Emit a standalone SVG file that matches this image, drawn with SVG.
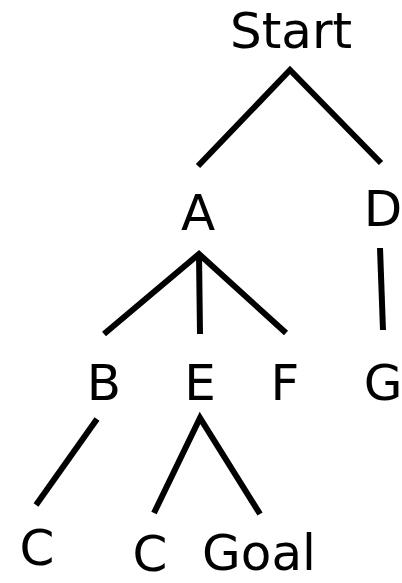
<svg xmlns="http://www.w3.org/2000/svg" width="402" height="583" viewBox="0 0 402 583">
<style>
text{font-family:"DejaVu Sans","Noto Sans",sans-serif;font-size:50px;fill:#000;text-anchor:middle}
.e{stroke:#000;stroke-width:6;fill:none;stroke-linecap:butt;stroke-linejoin:miter}
</style>
<rect width="402" height="583" fill="#fff"/>
<g id="connectors">
<path class="e" d="M198,166 L290,70 L381,163"/>
<path class="e" d="M104,334 L199,254 L286,333"/>
<path class="e" d="M199,254 L200,334"/>
<path class="e" d="M380,248 L383,330"/>
<path class="e" d="M97,419 L36,505"/>
<path class="e" d="M154,513 L200,418 L260,514"/>
</g>
<g id="node-start"><text x="291" y="48">Start</text></g>
<g id="node-a"><text x="198" y="230">A</text></g>
<g id="node-d"><text x="383" y="226">D</text></g>
<g id="node-b"><text x="104" y="400">B</text></g>
<g id="node-e"><text x="200" y="400">E</text></g>
<g id="node-f"><text x="285" y="400">F</text></g>
<g id="node-g"><text x="383" y="400">G</text></g>
<g id="node-c1"><text x="37" y="565">C</text></g>
<g id="node-c2"><text x="150" y="571">C</text></g>
<g id="node-goal"><text x="259" y="570">Goal</text></g>
</svg>
